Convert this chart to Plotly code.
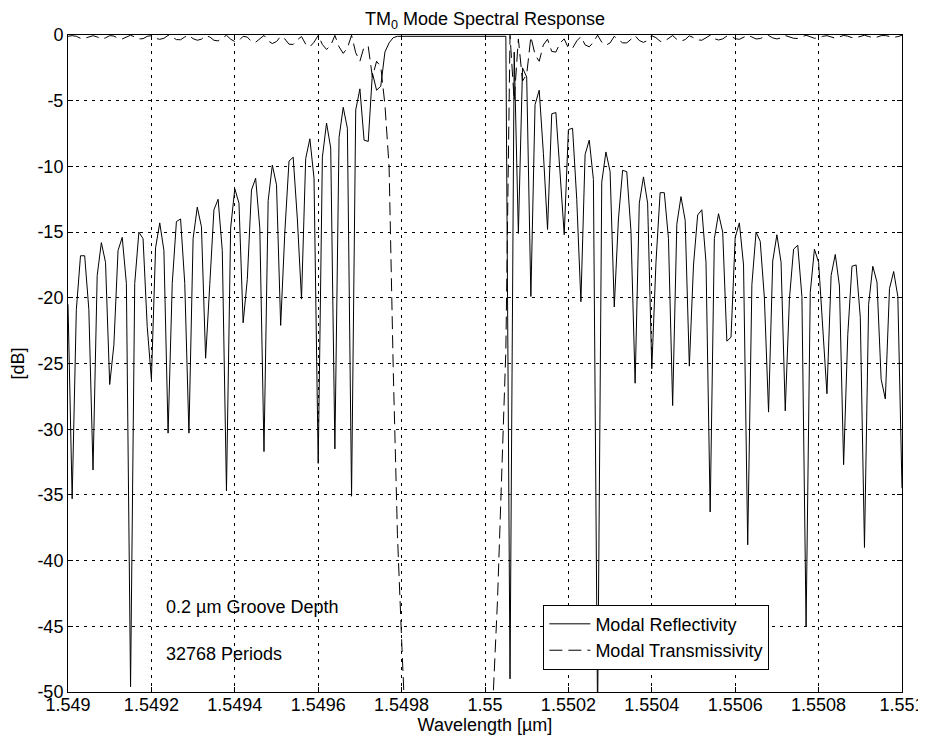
import plotly.graph_objects as go

# Sampling of the computed spectrum (wavelength in um)
wavelength_start = 1.549
wavelength_step = 0.00001

# Modal reflectivity [dB], one value per sample (201 samples)
reflectivity_db = [
    -20.5, -35.3, -20.9, -16.8, -16.8, -20.9, -33.1, -18.3, -15.8, -17.3,
    -26.6, -23.6, -16.4, -15.4, -18.9, -49.6, -18.9, -15.0, -15.5, -22.2,
    -26.2, -16.2, -14.3, -16.4, -30.3, -18.9, -14.2, -14.0, -18.9, -30.3,
    -15.5, -13.1, -14.6, -24.6, -19.0, -13.3, -12.5, -16.4, -34.7, -14.7,
    -11.7, -12.8, -21.9, -18.6, -11.8, -10.9, -14.7, -31.7, -12.6, -9.9,
    -11.4, -22.1, -15.0, -9.6, -9.3, -14.0, -20.1, -9.4, -7.9, -10.9,
    -32.6, -9.3, -6.7, -8.6, -31.5, -7.8, -5.5, -7.1, -35.1, -5.7,
    -4.1, -8.0, -8.1, -2.9, -4.2, -3.9, -1.3, -0.6, -0.2, -0.1,
    -0.1, -0.1, -0.1, -0.1, -0.1, -0.1, -0.1, -0.1, -0.1, -0.1,
    -0.1, -0.1, -0.1, -0.1, -0.1, -0.1, -0.1, -0.1, -0.1, -0.1,
    -0.1, -0.1, -0.1, -0.1, -0.1, -0.1, -49.0, -1.3, -15.1, -2.5,
    -3.2, -19.9, -5.3, -4.2, -9.0, -14.8, -6.0, -5.9, -10.5, -15.2,
    -7.2, -7.1, -12.5, -20.3, -9.1, -8.0, -11.0, -52.0, -11.2, -8.9,
    -10.4, -20.7, -14.0, -10.3, -10.4, -14.9, -26.5, -12.8, -10.8, -12.8,
    -25.4, -17.3, -12.0, -12.0, -15.5, -28.2, -14.4, -12.3, -14.1, -25.2,
    -17.5, -13.7, -13.3, -17.3, -36.3, -15.5, -13.6, -15.0, -23.3, -23.0,
    -15.4, -14.3, -17.5, -38.8, -19.0, -15.0, -15.7, -20.0, -28.7, -17.2,
    -15.2, -17.3, -28.6, -20.1, -16.3, -16.0, -19.9, -45.0, -19.6, -16.3,
    -17.3, -22.0, -27.3, -18.3, -16.7, -19.1, -32.7, -22.8, -17.6, -17.5,
    -21.5, -39.0, -20.5, -17.6, -18.8, -26.2, -27.7, -19.3, -18.0, -19.9,
    -34.5,
]

# Modal transmissivity [dB], one value per sample (201 samples)
transmissivity_db = [
    -0.1, -0.05, -0.1, -0.25, -0.25, -0.12, -0.05, -0.15, -0.3, -0.22,
    -0.05, -0.08, -0.25, -0.3, -0.15, -0.02, -0.15, -0.3, -0.28, -0.1,
    -0.05, -0.25, -0.33, -0.25, -0.03, -0.15, -0.35, -0.36, -0.15, -0.03,
    -0.28, -0.4, -0.32, -0.06, -0.15, -0.4, -0.45, -0.25, -0.02, -0.32,
    -0.5, -0.42, -0.1, -0.16, -0.5, -0.55, -0.32, -0.03, -0.45, -0.65,
    -0.5, -0.1, -0.3, -0.7, -0.72, -0.36, -0.12, -0.7, -0.9, -0.55,
    -0.03, -0.72, -1.1, -0.8, -0.03, -0.9, -1.4, -1.0, -0.02, -1.35,
    -2.0, -0.9, -0.88, -3.2, -2.0, -2.4, -5.3, -10.0, -25.5, -38.0,
    -46.0, -55, -61, -66, -70, -73, -75, -77, -78, -79,
    -79, -80, -79, -79, -78, -77, -75, -72, -68, -64,
    -59, -54, -50, -43, -34, -24, -0.02, -5.0, -0.3, -3.5,
    -3.0, -0.12, -1.5, -2.0, -0.75, -0.32, -1.25, -1.3, -0.6, -0.3,
    -1.0, -1.0, -0.45, -0.12, -0.75, -0.9, -0.55, -0.01, -0.55, -0.78,
    -0.6, -0.1, -0.36, -0.6, -0.6, -0.3, -0.05, -0.42, -0.56, -0.42,
    -0.06, -0.2, -0.48, -0.48, -0.28, -0.04, -0.33, -0.46, -0.35, -0.06,
    -0.2, -0.37, -0.4, -0.2, -0.02, -0.28, -0.38, -0.3, -0.08, -0.08,
    -0.28, -0.33, -0.2, -0.02, -0.15, -0.3, -0.27, -0.12, -0.04, -0.22,
    -0.3, -0.22, -0.04, -0.12, -0.25, -0.26, -0.12, -0.02, -0.13, -0.25,
    -0.22, -0.1, -0.05, -0.17, -0.24, -0.14, -0.03, -0.09, -0.2, -0.2,
    -0.1, -0.02, -0.11, -0.2, -0.16, -0.05, -0.04, -0.14, -0.18, -0.12,
    -0.02,
]

x_tick_values = [1.549, 1.5492, 1.5494, 1.5496, 1.5498, 1.55,
                 1.5502, 1.5504, 1.5506, 1.5508, 1.551]
x_tick_labels = ["1.549", "1.5492", "1.5494", "1.5496", "1.5498", "1.55",
                 "1.5502", "1.5504", "1.5506", "1.5508", "1.551"]
y_tick_values = [0, -5, -10, -15, -20, -25, -30, -35, -40, -45, -50]
y_tick_labels = ["0", "-5", "-10", "-15", "-20", "-25", "-30", "-35",
                 "-40", "-45", "-50"]

FONT = "Liberation Sans, Arial, Helvetica, sans-serif"
FS = 18

# The page body has an 8 px margin, so the figure is sized to fill the
# remaining part of the 926x747 window.
FIG_W, FIG_H = 918, 739

fig = go.Figure()
fig.add_trace(go.Scatter(
    x0=wavelength_start, dx=wavelength_step, y=reflectivity_db,
    mode="lines", name="Modal Reflectivity",
    line=dict(color="black", width=1),
))
fig.add_trace(go.Scatter(
    x0=wavelength_start, dx=wavelength_step, y=transmissivity_db,
    mode="lines", name="Modal Transmissivity",
    line=dict(color="black", width=1, dash="13px,6px"),
))

fig.add_annotation(x=1.5492337, y=-43.5, xref="x", yref="y",
                   text="0.2 µm Groove Depth", showarrow=False,
                   xanchor="left", yanchor="middle", borderpad=0,
                   font=dict(family=FONT, size=FS, color="black"))
fig.add_annotation(x=1.5492337, y=-47.1, xref="x", yref="y",
                   text="32768 Periods", showarrow=False,
                   xanchor="left", yanchor="middle", borderpad=0,
                   font=dict(family=FONT, size=FS, color="black"))

axis_common = dict(
    showline=True, linecolor="black", linewidth=1, mirror="ticks",
    ticks="inside", ticklen=5, tickcolor="black", tickwidth=1,
    showgrid=True, gridcolor="black", gridwidth=1, griddash="3px,5px",
    zeroline=False, automargin=False,
    tickfont=dict(family=FONT, size=FS, color="black"),
)

fig.update_xaxes(
    range=[1.549, 1.551], tickvals=x_tick_values, ticktext=x_tick_labels,
    ticklabelstandoff=-4,
    title=dict(text="Wavelength [µm]", standoff=0,
               font=dict(family=FONT, size=FS, color="black")),
    **axis_common,
)
fig.update_yaxes(
    range=[-50, 0], tickvals=y_tick_values, ticktext=y_tick_labels,
    title=dict(text="[dB]", standoff=16,
               font=dict(family=FONT, size=FS, color="black")),
    **axis_common,
)

fig.update_layout(
    template="none",
    width=FIG_W, height=FIG_H,
    margin=dict(l=59.5, r=24, t=27, b=55),
    paper_bgcolor="white", plot_bgcolor="white",
    font=dict(family=FONT, size=FS, color="black"),
    title=dict(text="TM<sub>0</sub> Mode Spectral Response",
               x=0.5, xref="paper", xanchor="center",
               y=1 - 11 / FIG_H, yref="container", yanchor="middle",
               font=dict(family=FONT, size=FS, color="black")),
    showlegend=True,
    legend=dict(x=0.570, y=0.133, xanchor="left", yanchor="top",
                bordercolor="black", borderwidth=1, bgcolor="white",
                itemwidth=41,
                font=dict(family=FONT, size=FS, color="black"),
                tracegroupgap=0),
)

fig.write_html("out.html")
